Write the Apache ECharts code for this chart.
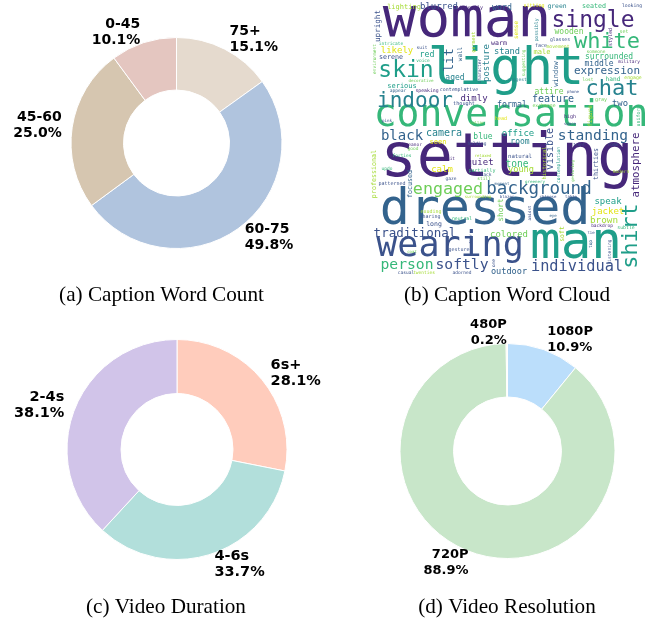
<!DOCTYPE html>
<html>
<head>
<meta charset="utf-8">
<style>
  html, body { margin: 0; padding: 0; background: #fff; }
  #chart { width: 652px; height: 620px; }
</style>
<script src="https://cdn.jsdelivr.net/npm/echarts@6/dist/echarts.min.js"></script>
</head>
<body>
<div id="chart"></div>
<script>
// Pie data
const wordCountLabels = ['75+', '60-75', '45-60', '0-45'];
const wordCountValues = [15.1, 49.8, 25.0, 10.1];
const wordCountColors = ['#e5dace', '#b0c4de', '#d6c6b0', '#e4c6c0'];

const durationLabels = ['6s+', '4-6s', '2-4s'];
const durationValues = [28.1, 33.7, 38.1];
const durationColors = ['#ffccbc', '#b2dfdb', '#d1c4e9'];

const resolutionLabels = ['1080P', '720P', '480P'];
const resolutionValues = [10.9, 88.9, 0.2];
const resolutionColors = ['#bbdefb', '#c8e6c9', '#fff3e0'];

// Word cloud: word, x, y, weight (font size), tone (0 dark .. 9 light)
const cloudWords = [
  ['woman', 97, 24, 56, 1], ['single', 223, 22, 23, 1], ['white', 237, 43, 22, 6], ['light', 136, 73, 52, 5],
  ['chat', 242, 90, 22, 4], ['skin', 36, 72, 23, 5], ['lit', 80, 60, 13, 3], ['indoor', 45, 102, 21, 4],
  ['conversation', 141, 118, 38, 6], ['black', 32, 137, 14, 3], ['camera', 74, 134, 10, 4], ['upright', 8, 26, 7.6, 2],
  ['lighting', 34, 7, 7, 8], ['blurred', 69, 7, 9, 2], ['intently', 101, 8, 5, 1], ['word', 132, 8, 8.3, 3],
  ['sitting', 164, 6, 5, 9], ['green', 187, 7, 6.4, 4], ['seated', 224, 7, 6.7, 6], ['looking', 262, 6, 4.8, 2],
  ['sense', 147, 30, 6, 9], ['possibly', 167, 30, 4.8, 4], ['wooden', 199, 32, 8, 7], ['set', 254, 32, 5, 7],
  ['styled', 241, 37, 5, 1], ['glasses', 190, 40, 4.8, 2], ['face', 171, 46, 5, 2], ['movement', 188, 47, 4.8, 8],
  ['likely', 27, 51, 9, 9], ['intricate', 21, 44, 4.5, 6], ['suit', 52, 48, 4.5, 2], ['voice', 53, 61, 4.5, 6],
  ['environment', 5, 59, 4.5, 7], ['red', 57, 55, 8.3, 5], ['wall', 91, 54, 6, 3], ['garment', 104, 42, 5, 8],
  ['character', 110, 71, 4.5, 2], ['posture', 117, 63, 9, 4], ['warm', 129, 44, 6.6, 1], ['stand', 137, 52, 8.7, 4],
  ['male', 172, 52, 7, 8], ['someone', 226, 52, 4.5, 7], ['surrounded', 239, 57, 8, 6], ['military', 259, 62, 4.5, 1],
  ['middle', 229, 64, 8, 3], ['serene', 21, 58, 6.7, 2], ['aged', 85, 78, 8, 4], ['window', 186, 74, 7, 3],
  ['expression', 237, 72, 11, 3], ['suggesting', 154, 63, 4.5, 7], ['suggest', 147, 80, 4.6, 4], ['lost', 218, 80, 4.5, 7],
  ['hand', 243, 80, 6.2, 6], ['engage', 263, 78, 4.8, 8], ['decorative', 51, 81, 4.2, 7], ['serious', 32, 86, 7, 5],
  ['contemplative', 89, 90, 4.9, 2], ['appear', 28, 91, 4.6, 3], ['speaking', 57, 91, 4.8, 1], ['attire', 179, 92, 8, 7],
  ['phone', 203, 92, 4, 2], ['gray', 231, 100, 5, 7], ['dimly', 104, 99, 9, 1], ['feature', 183, 100, 10, 3],
  ['thought', 94, 104, 5.2, 2], ['formal', 142, 105, 8.3, 3], ['two', 250, 104, 8.9, 3], ['exchange', 174, 106, 4.8, 7],
  ['figure', 221, 116, 6, 8], ['uniform', 269, 116, 5, 6], ['pink', 17, 121, 4.2, 2], ['collar', 107, 123, 4, 7],
  ['head', 131, 119, 5, 9], ['high', 200, 117, 5, 1], ['space', 200, 124, 4, 2], ['blue', 113, 137, 8, 6],
  ['seen', 68, 142, 7, 9], ['office', 148, 134, 9, 5], ['standing', 223, 137, 14.6, 3], ['visible', 181, 149, 10, 2],
  ['room', 150, 142, 8, 4], ['setting', 137, 163, 60, 1], ['atmosphere', 267, 165, 10.8, 1], ['demeanor', 41, 145, 4.5, 1],
  ['good', 43, 149, 4.5, 7], ['professional', 5, 174, 6.7, 8], ['forties', 32, 156, 4.5, 6], ['sit', 81, 159, 4.5, 1],
  ['holding', 107, 144, 4.5, 2], ['relaxed', 113, 156, 4, 8], ['natural', 150, 157, 5.7, 2], ['updo', 17, 169, 4.5, 6],
  ['quiet', 110, 163, 9, 1], ['tone', 147, 165, 9.6, 6], ['young', 151, 170, 8.7, 8], ['calm', 72, 170, 9, 9],
  ['partially', 112, 171, 5, 6], ['back', 116, 175, 4.5, 2], ['still', 114, 179, 4.5, 7], ['gaze', 81, 179, 4.5, 2],
  ['patterned', 22, 184, 5, 2], ['moment', 132, 184, 4.1, 3], ['greenery', 165, 182, 4.2, 6], ['historical', 175, 163, 5.5, 8],
  ['contemplation', 189, 165, 4.6, 5], ['gesturing', 203, 171, 4, 7], ['front', 209, 145, 4, 2], ['rome', 243, 145, 4.5, 2],
  ['thirties', 227, 164, 6.7, 2], ['modern', 251, 172, 4.5, 8], ['focused', 41, 184, 6.7, 3], ['engaged', 78, 190, 16.7, 7],
  ['background', 169, 190, 17.5, 3], ['surrounding', 108, 197, 4, 8], ['blazer', 137, 197, 4, 2], ['chinese', 178, 197, 4, 2],
  ['table', 201, 197, 4, 2], ['short', 131, 210, 7.7, 7], ['amidst', 160, 213, 4.2, 2], ['speak', 238, 202, 9, 5],
  ['shirt', 262, 236, 21.7, 5], ['dressed', 115, 213, 50, 3], ['jacket', 238, 212, 9, 9], ['brown', 234, 221, 9.3, 8],
  ['exuding', 61, 212, 5, 8], ['sharing', 60, 217, 5, 2], ['neutral', 92, 219, 4.8, 6], ['eye', 183, 216, 4, 3],
  ['long', 64, 225, 6.5, 2], ['backdrop', 232, 226, 4.5, 1], ['subtle', 256, 228, 4.8, 6], ['soft', 193, 234, 6.5, 8],
  ['tie', 221, 233, 4, 2], ['top', 221, 244, 4.5, 3], ['man', 206, 247, 51, 5], ['traditional', 45, 234, 12.5, 2],
  ['colored', 139, 235, 9, 7], ['wearing', 80, 248, 35, 2], ['fair', 101, 239, 4, 2], ['gesture', 89, 250, 5, 2],
  ['coat', 42, 252, 4, 7], ['one', 124, 263, 4.5, 2], ['listening', 240, 252, 4.6, 2], ['person', 37, 266, 14.7, 6],
  ['softly', 92, 266, 14.7, 2], ['outdoor', 139, 272, 8.6, 3], ['individual', 207, 268, 15.3, 2], ['casual', 36, 273, 4.5, 2],
  ['twenties', 54, 273, 4.5, 8], ['adorned', 92, 273, 4.5, 2]
];
const uprightWords = ['lit', 'upright', 'sense', 'possibly', 'styled', 'environment', 'wall', 'garment', 'character', 'posture',
  'window', 'suggesting', 'figure', 'uniform', 'visible', 'atmosphere', 'professional', 'historical', 'contemplation', 'gesturing',
  'thirties', 'focused', 'short', 'amidst', 'shirt', 'soft', 'top', 'fair', 'one', 'listening'];
const viridis = ['#440154', '#46277a', '#3b528b', '#33638d', '#26828e', '#1f9e89', '#35b779', '#6ece58', '#a5db36', '#e2e418'];

const chart = echarts.init(document.getElementById('chart'));

// matplotlib style labels: block edge sits at 1.1 r on the mid angle of the slice
function donut(labels, values, colors, cx, cy, r, inner, labelSize) {
  const total = values.reduce((a, b) => a + b, 0);
  const mids = [];
  let run = 0;
  values.forEach(v => { mids.push((run + v / 2) / total * 2 * Math.PI); run += v; });
  return {
    type: 'pie',
    center: [cx, cy],
    radius: [inner, r],
    startAngle: 90,
    clockwise: true,
    silent: true,
    animation: false,
    avoidLabelOverlap: false,
    itemStyle: { borderColor: '#fff', borderWidth: 1 },
    label: {
      show: true,
      position: 'outside',
      formatter: p => p.name + '\n' + p.value.toFixed(1) + '%',
      fontFamily: 'DejaVu Sans',
      fontWeight: 'bold',
      fontSize: labelSize,
      lineHeight: 16,
      color: '#000'
    },
    labelLine: { show: false },
    labelLayout: p => {
      const a = mids[p.dataIndex];
      const s = Math.sin(a);
      return {
        x: cx + 1.1 * r * s,
        y: cy - 1.1 * r * Math.cos(a),
        align: s < 0 ? 'right' : 'left',
        verticalAlign: 'middle'
      };
    },
    data: labels.map((n, i) => ({ name: n, value: values[i], itemStyle: { color: colors[i] } }))
  };
}

// big words first so the small ones stay on top
const cloudOrder = cloudWords.slice().sort((a, b) => b[3] - a[3]);

const captionStyle = { fontFamily: 'Liberation Serif', fontSize: 21.2, fontWeight: 'normal', color: '#000' };
const option = {
  backgroundColor: '#fff',
  animation: false,
  title: [
    { text: '(a) Caption Word Count', left: 156.5, top: 280, textAlign: 'center', textStyle: captionStyle },
    { text: '(b) Caption Word Cloud', left: 502, top: 280, textAlign: 'center', textStyle: captionStyle },
    { text: '(c) Video Duration', left: 161, top: 592, textAlign: 'center', textStyle: captionStyle },
    { text: '(d) Video Resolution', left: 502, top: 592, textAlign: 'center', textStyle: captionStyle }
  ],
  grid: { left: 370, top: 0, width: 282, height: 280 },
  xAxis: { type: 'value', min: 0, max: 282, show: false },
  yAxis: { type: 'value', min: 0, max: 280, inverse: true, show: false },
  series: [
    donut(wordCountLabels, wordCountValues, wordCountColors, 176.5, 143, 105.5, 53, 14),
    donut(durationLabels, durationValues, durationColors, 177, 449.5, 110, 56, 14.5),
    donut(resolutionLabels, resolutionValues, resolutionColors, 507.5, 451, 107.5, 54, 13),
    {
      type: 'scatter',
      symbolSize: 0,
      silent: true,
      itemStyle: { opacity: 1 },
      data: cloudOrder.map(w => ({
        value: [w[1], w[2]],
        name: w[0],
        label: {
          show: true,
          position: 'inside',
          formatter: w[0],
          fontFamily: 'DejaVu Sans Mono',
          fontSize: w[3],
          color: viridis[w[4]],
          opacity: 1,
          rotate: uprightWords.includes(w[0]) ? 90 : 0,
          offset: [0, -0.04 * w[3]],
          align: 'center',
          verticalAlign: 'middle'
        }
      }))
    }
  ]
};
chart.setOption(option);
</script>
</body>
</html>
